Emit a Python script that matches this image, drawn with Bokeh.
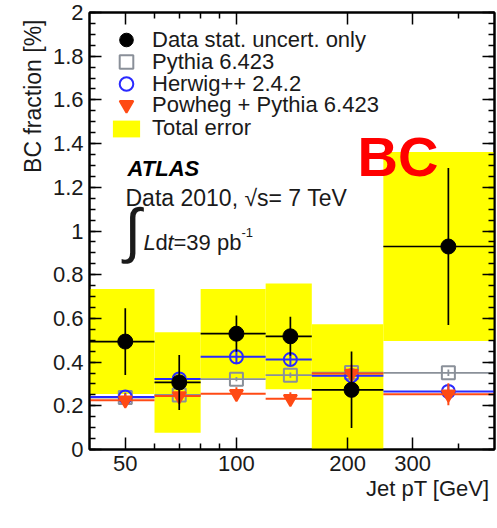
import numpy as np
from bokeh.plotting import figure
from bokeh.models import (FixedTicker, CustomJSTickFormatter, LogAxis, LinearAxis,
                          Label, Legend, LegendItem, Title)
from bokeh.embed import file_html
from bokeh.resources import INLINE

# ---------------- data ----------------
bin_edges = [40, 60, 80, 120, 160, 250, 500]          # jet pT bins [GeV]
bin_x = [50, 70, 100, 140, 205, 375]                 # marker positions [GeV]
data_frac = [0.494, 0.307, 0.530, 0.518, 0.273, 0.929]   # BC fraction [%]
data_stat = [0.153, 0.126, 0.083, 0.089, 0.175, 0.359]
total_err = [0.240, 0.230, 0.205, 0.242, 0.300, 0.433]
pythia = [0.238, 0.250, 0.322, 0.340, 0.352, 0.351]
pythia_err = [0.010, 0.010, 0.010, 0.012, 0.015, 0.015]
herwig = [0.240, 0.323, 0.424, 0.412, 0.338, 0.266]
herwig_err = [0.020, 0.020, 0.034, 0.030, 0.030, 0.030]
powheg = [0.225, 0.245, 0.255, 0.232, 0.348, 0.253]
powheg_err = [0.030, 0.030, 0.030, 0.030, 0.040, 0.050]

x_major = [50, 100, 200, 300]
x_minor = [60, 70, 80, 90, 400]
y_major = [0, 0.2, 0.4, 0.6, 0.8, 1.0, 1.2, 1.4, 1.6, 1.8, 2.0]

legend_labels = ["Data stat. uncert. only", "Pythia 6.423", "Herwig++ 2.4.2",
                 "Powheg + Pythia 6.423", "Total error"]
x_title = "Jet pT [GeV]"
y_title = "BC fraction [%]"

# ---------------- styling ----------------
FONT = "Liberation Sans"
TXT = "#1a1a1a"
YELLOW = "#ffff00"
GRAY = "#8a9099"
BLUE = "#2a2aff"
RED = "#ff4a14"

left = bin_edges[:-1]
right = bin_edges[1:]
d = np.array(data_frac)
te = np.array(total_err)

p = figure(width=497, height=528, x_axis_type="log", x_range=(40, 500), y_range=(0, 2),
           output_backend="svg", toolbar_location=None)
p.min_border = 0
p.min_border_left = 89
p.min_border_right = 3
p.min_border_top = 12
p.min_border_bottom = 79
p.xgrid.visible = False
p.ygrid.visible = False
p.outline_line_color = "black"
p.outline_line_width = 2
p.background_fill_color = "white"
p.border_fill_color = "white"

bottom_ax = p.below[0]
left_ax = p.left[0]

# total error boxes
r_tot = p.quad(left=left, right=right, bottom=d - te, top=d + te,
               fill_color=YELLOW, line_color=None)

def mc(vals, errs, color, marker, lw, fill):
    v = np.array(vals)
    e = np.array(errs)
    p.segment(x0=left, y0=v, x1=right, y1=v, line_color=color, line_width=lw)
    p.segment(x0=bin_x, y0=v - e, x1=bin_x, y1=v + e, line_color=color, line_width=lw)
    return p.scatter(bin_x, v, marker=marker, size=13, line_color=color,
                     line_width=2, fill_color=fill)

r_py = mc(pythia, pythia_err, GRAY, "square", 1.8, None)
r_hw = mc(herwig, herwig_err, BLUE, "circle", 2.0, None)
r_pw = mc(powheg, powheg_err, RED, "inverted_triangle", 2.0, RED)

ds = np.array(data_stat)
p.segment(x0=left, y0=d, x1=right, y1=d, line_color="black", line_width=1.7)
p.segment(x0=bin_x, y0=d - ds, x1=bin_x, y1=d + ds, line_color="black", line_width=1.7)
r_data = p.scatter(bin_x, d, marker="circle", size=15, fill_color="black", line_color="black")

# ---------------- axes ----------------
xt = FixedTicker(ticks=x_major, minor_ticks=x_minor)
yt = FixedTicker(ticks=y_major, minor_ticks=list(np.round(np.arange(0, 2.0001, 0.05), 3)))
xfmt = CustomJSTickFormatter(code="return tick.toFixed(0);")
yfmt = CustomJSTickFormatter(code="return tick.toFixed(1).replace(/\\.0$/, '');")
nofmt = CustomJSTickFormatter(code="return '';")

def style_axis(ax, labels=True):
    ax.major_tick_in = 12
    ax.major_tick_out = 0
    ax.minor_tick_in = 6
    ax.minor_tick_out = 0
    ax.major_tick_line_width = 1.5
    ax.minor_tick_line_width = 1.5
    ax.major_tick_line_color = "black"
    ax.minor_tick_line_color = "black"
    ax.axis_line_width = 2
    ax.axis_line_color = "black"
    if labels:
        ax.major_label_text_font = FONT
        ax.major_label_text_font_size = "22px"
        ax.major_label_text_color = TXT
        ax.major_label_standoff = 6
    else:
        ax.major_label_text_font_size = "0px"
        ax.major_label_standoff = 0

bottom_ax.ticker = xt
bottom_ax.formatter = xfmt
left_ax.ticker = yt
left_ax.formatter = yfmt
style_axis(bottom_ax)
style_axis(left_ax)

top_ax = LogAxis(ticker=xt, formatter=nofmt)
style_axis(top_ax, labels=False)
p.add_layout(top_ax, "above")
right_ax = LinearAxis(ticker=yt, formatter=nofmt)
style_axis(right_ax, labels=False)
p.add_layout(right_ax, "right")

# invisible spacer axis below the x axis, pushing the x title down a little
spacer_ax = LogAxis(ticker=xt, formatter=nofmt)
spacer_ax.axis_line_color = None
spacer_ax.major_tick_line_color = None
spacer_ax.minor_tick_line_color = None
spacer_ax.major_tick_in = 0
spacer_ax.major_tick_out = 0
spacer_ax.minor_tick_in = 0
spacer_ax.minor_tick_out = 0
spacer_ax.major_label_text_font_size = "0px"
spacer_ax.major_label_standoff = 11
p.add_layout(spacer_ax, "below")

# ---------------- axis titles (ROOT style: at the far end of each axis) ----------------
p.add_layout(Title(text=y_title, align="right", offset=7, standoff=8,
                   text_font=FONT, text_font_size="23px", text_font_style="normal",
                   text_color=TXT), "left")
p.add_layout(Title(text=x_title, align="right", offset=5, standoff=0,
                   text_font=FONT, text_font_size="22px", text_font_style="normal",
                   text_color=TXT), "below")

# ---------------- legends (one per row so the rows sit as in the reference) ----------------
def make_legend(label, renderer, bottom, glyph_h):
    lg = Legend(items=[LegendItem(label=label, renderers=[renderer])], location=(20, bottom))
    lg.label_text_font = FONT
    lg.label_text_font_size = "22px"
    lg.label_text_color = TXT
    lg.glyph_width = 34
    lg.glyph_height = glyph_h
    lg.label_height = 20
    lg.label_standoff = 9
    lg.padding = 0
    lg.margin = 0
    lg.spacing = 0
    lg.border_line_color = None
    lg.background_fill_alpha = 0
    p.add_layout(lg)

make_legend(legend_labels[0], r_data, 392, 35)
make_legend(legend_labels[1], r_py, 370, 35)
make_legend(legend_labels[2], r_hw, 348, 35)
make_legend(legend_labels[3], r_pw, 327, 35)
make_legend(legend_labels[4], r_tot, 308, 21)

# ---------------- texts inside the frame (screen units relative to the frame) ----------------
def lab(text, x, y, size="22px", style="normal", color=TXT, align="left",
        baseline="alphabetic", font=FONT):
    p.add_layout(Label(x=x, y=y, x_units="screen", y_units="screen", text=text,
                       text_font=font, text_font_size=size, text_font_style=style,
                       text_color=color, text_align=align, text_baseline=baseline))

lab("ATLAS", 38, 281, style="bold italic", color="black")
lab("Data 2010,  \u221as= 7 TeV", 36, 252, size="23px")
lab("\u222b", 35, 219, size="60px", baseline="middle")
lab("L", 54, 207, style="italic")
lab("d", 66, 207)
lab("t", 78, 207, style="italic")
lab("=39 pb", 84, 207)
lab("-1", 152, 217, size="13px")
lab("BC", 268, 293, size="56px", style="bold", color="#ff0000")

open("out.html", "w").write(file_html(p, INLINE))
